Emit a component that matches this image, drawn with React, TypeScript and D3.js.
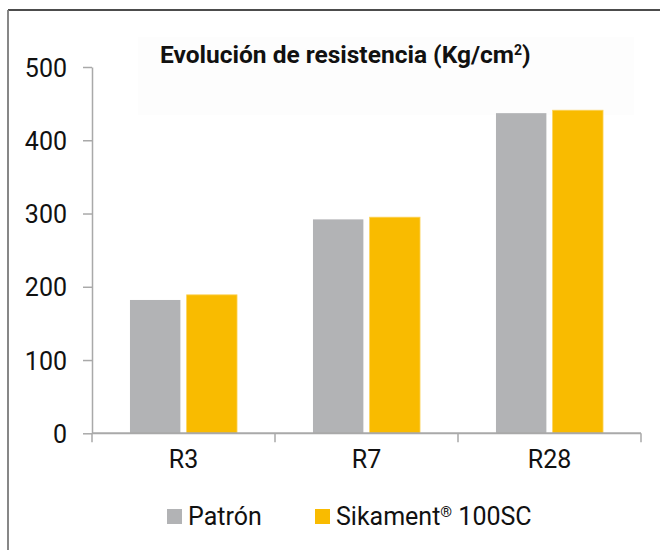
import { useEffect, useRef } from 'react';
import * as d3 from 'd3';

const categories = ['R3', 'R7', 'R28'];
const seriesNames = ['Patrón', 'Sikament® 100SC'];
const patronValues = [182, 292, 437];
const sikamentValues = [189, 295, 441];
const yTicks = [0, 100, 200, 300, 400, 500];
const colors = ['#b2b3b5', '#f9bb00'];

const App = () => {
    const ref = useRef<SVGSVGElement>(null);

    useEffect(() => {
        const svg = d3.select(ref.current);
        svg.selectAll('*').remove();

        const width = 660;
        const height = 550;
        const font = 'Roboto, "Open Sans", sans-serif';
        const axisColor = '#a9a9a9';

        const left = 92, right = 641, top = 67, bottom = 433.3;

        // outer frame (only top and left edges visible)
        svg.append('line')
            .attr('x1', 8).attr('x2', width).attr('y1', 10).attr('y2', 10)
            .attr('stroke', '#111').attr('stroke-width', 1.6);
        svg.append('line')
            .attr('x1', 8).attr('x2', 8).attr('y1', 10).attr('y2', height)
            .attr('stroke', '#7a7a7a').attr('stroke-width', 1.8);

        // title background
        svg.append('rect')
            .attr('x', 138).attr('y', 37).attr('width', 496).attr('height', 78)
            .attr('fill', '#fdfdfd');

        const title = svg.append('text')
            .attr('x', 160).attr('y', 63)
            .style('font-family', font)
            .style('font-weight', 'bold')
            .style('font-size', '24.5px')
            .attr('fill', '#111');
        title.append('tspan').text('Evolución de resistencia (Kg/cm');
        title.append('tspan').text('2').attr('dy', -8).style('font-size', '14px');
        title.append('tspan').text(')').attr('dy', 8);

        const x0 = d3.scaleBand()
            .domain(categories)
            .range([left, right])
            .paddingInner(0.415)
            .paddingOuter(0.2075);

        const x1 = d3.scaleBand()
            .domain(seriesNames)
            .range([0, x0.bandwidth()])
            .paddingInner(0.11);

        const y = d3.scaleLinear().domain([0, 500]).range([bottom, top]);

        const rows = categories.map((c, i) => ({ cat: c, vals: [patronValues[i], sikamentValues[i]] }));

        // bars
        const groups = svg.append('g')
            .selectAll('g')
            .data(rows)
            .join('g')
            .attr('transform', d => `translate(${x0(d.cat)},0)`);

        groups.selectAll('rect')
            .data(d => d.vals.map((v, j) => ({ name: seriesNames[j], v, j })))
            .join('rect')
            .attr('x', d => x1(d.name))
            .attr('width', x1.bandwidth())
            .attr('y', d => y(d.v))
            .attr('height', d => y(0) - y(d.v))
            .attr('fill', d => colors[d.j])
            .attr('stroke', d => d.j === 1 ? '#fcd35a' : 'none')
            .attr('stroke-width', 0.8);

        // y axis
        const yAxis = svg.append('g')
            .attr('transform', `translate(${left},0)`)
            .call(d3.axisLeft(y).tickValues(yTicks).tickSize(9).tickSizeOuter(0).tickPadding(16));
        yAxis.select('.domain').attr('stroke', axisColor).attr('stroke-width', 1.5);
        yAxis.selectAll('.tick line').attr('stroke', axisColor).attr('stroke-width', 1.5);
        yAxis.selectAll('.tick text')
            .style('font-family', font)
            .style('font-size', '25px')
            .attr('fill', '#111')
            .attr('dy', '0.36em');

        // x axis line with ticks at band boundaries
        const xAxis = svg.append('g');
        xAxis.append('line')
            .attr('x1', left).attr('x2', right)
            .attr('y1', y(0)).attr('y2', y(0))
            .attr('stroke', axisColor).attr('stroke-width', 2);
        const bounds = d3.range(categories.length + 1).map(i => left + i * x0.step());
        xAxis.selectAll('line.tk')
            .data(bounds)
            .join('line')
            .attr('class', 'tk')
            .attr('x1', d => d).attr('x2', d => d)
            .attr('y1', y(0)).attr('y2', y(0) + 9)
            .attr('stroke', axisColor).attr('stroke-width', 1.5);
        xAxis.selectAll('text')
            .data(categories)
            .join('text')
            .attr('x', d => x0(d) + x0.bandwidth() / 2)
            .attr('y', 468)
            .attr('text-anchor', 'middle')
            .style('font-family', font)
            .style('font-size', '25px')
            .attr('fill', '#111')
            .text(d => d);

        // legend
        const legendX = [167, 315];
        const legend = svg.append('g')
            .selectAll('g')
            .data(seriesNames)
            .join('g')
            .attr('transform', (d, i) => `translate(${legendX[i]},0)`);
        legend.append('rect')
            .attr('x', 0).attr('y', 509)
            .attr('width', 15).attr('height', 15)
            .attr('fill', (d, i) => colors[i]);
        const lt = legend.append('text')
            .attr('x', 21).attr('y', 525)
            .style('font-family', font)
            .style('font-size', '25px')
            .attr('fill', '#111');
        lt.each(function (d) {
            const t = d3.select(this);
            const parts = d.split('®');
            t.append('tspan').text(parts[0]);
            if (parts.length > 1) {
                t.append('tspan').text('®').attr('dy', -8).style('font-size', '15px');
                t.append('tspan').text(parts[1]).attr('dy', 8);
            }
        });
    }, []);

    return (
        <svg ref={ref} width={660} height={550} style={{ position: 'absolute', left: 0, top: 0, background: '#fff' }} />
    );
};

export default App;
